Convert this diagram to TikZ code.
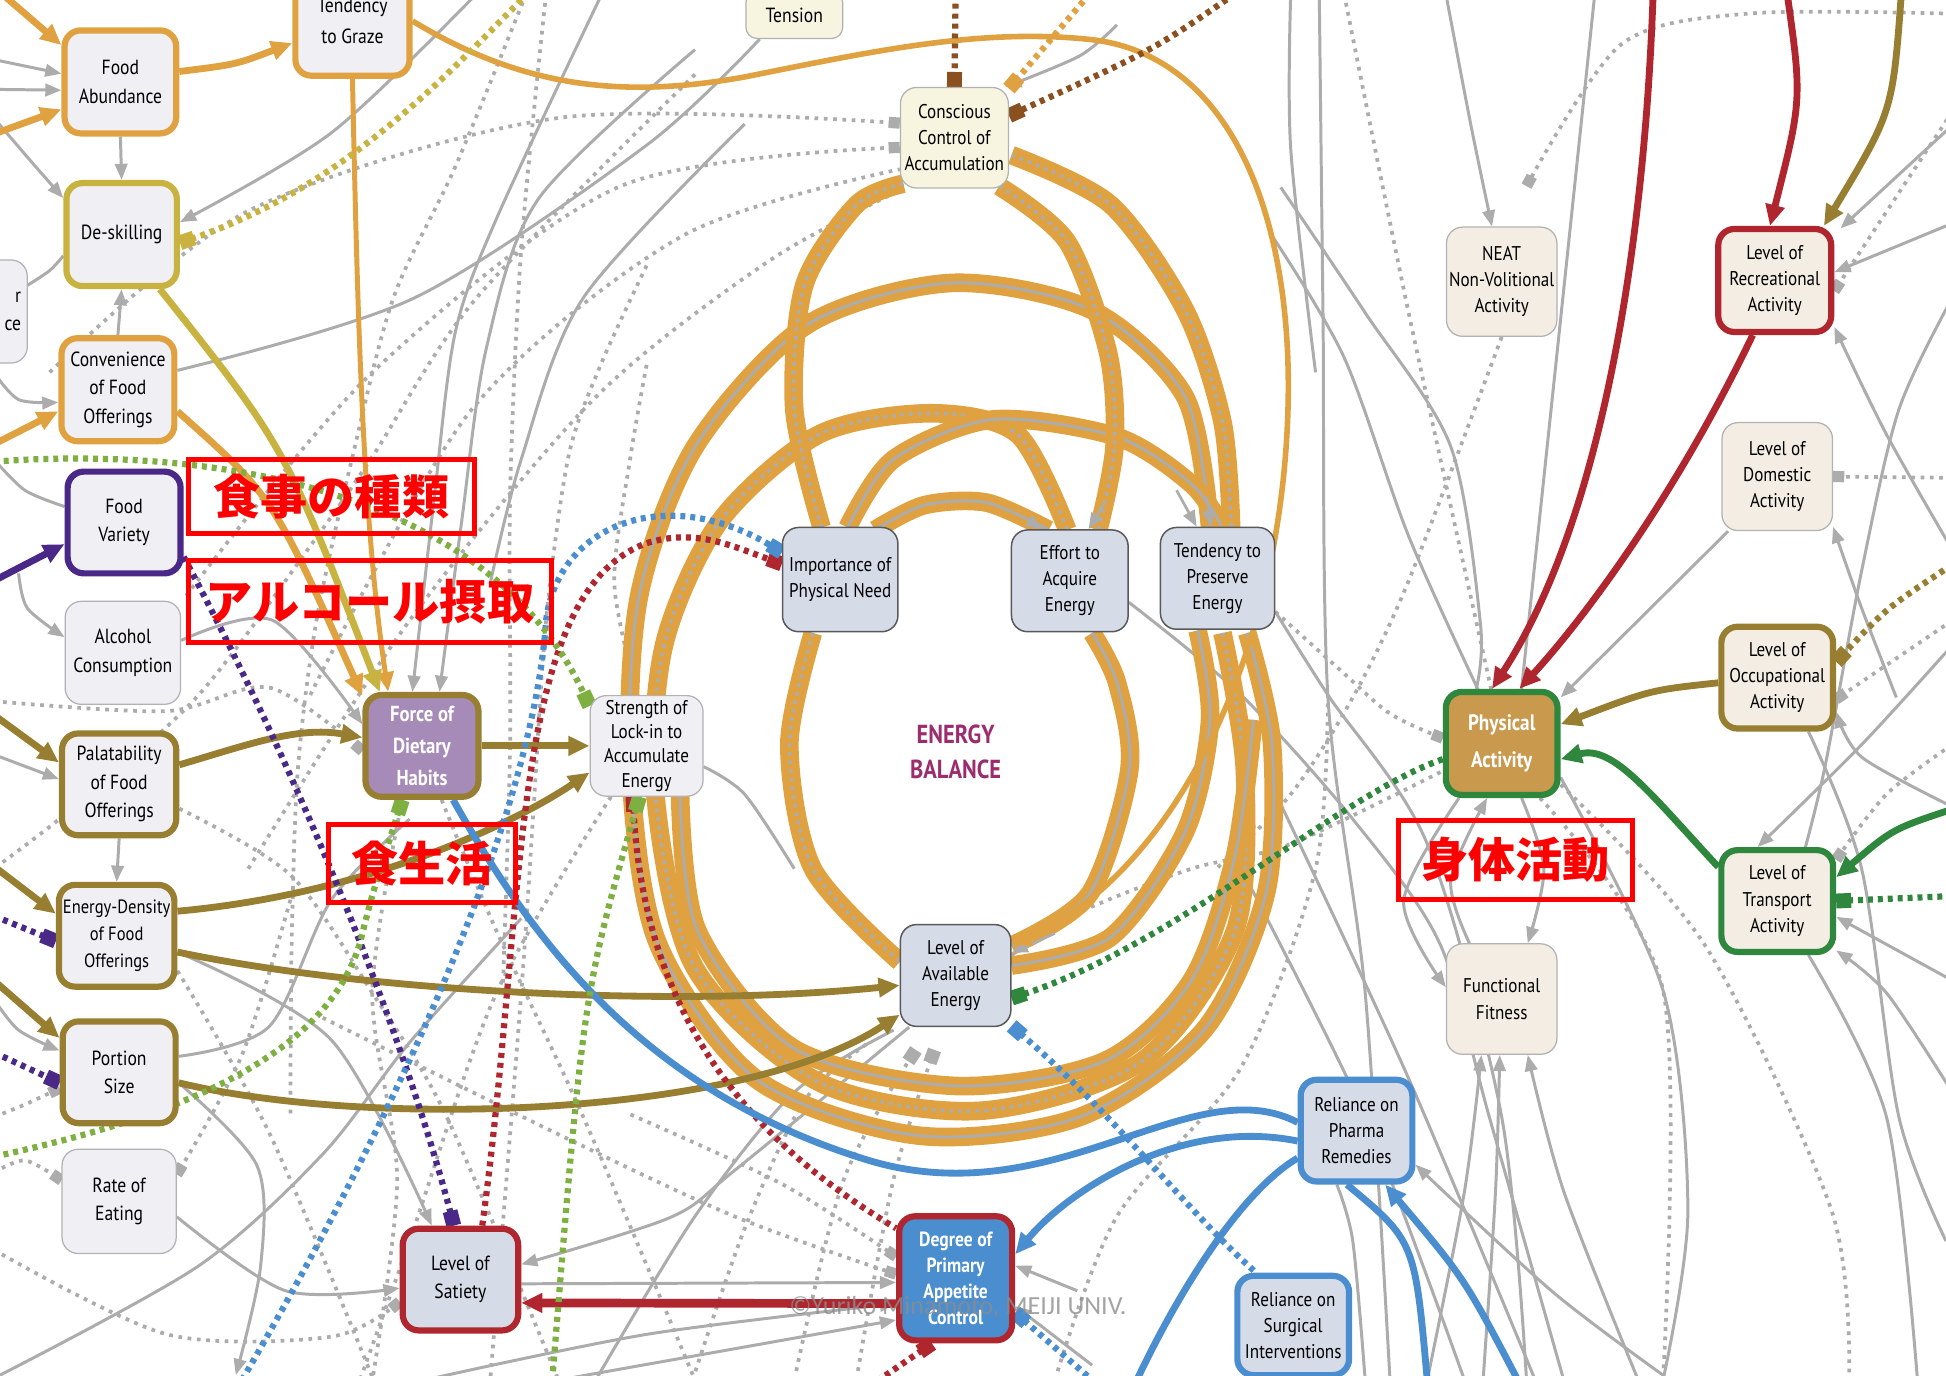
\documentclass[tikz,border=0pt]{standalone}
\usepackage{fontspec}
\setmainfont{PT Sans}[FakeStretch=0.86]
\newfontfamily\jpfont{Noto Sans CJK JP}
\newfontfamily\wmfont{Carlito}
\usetikzlibrary{arrows.meta,backgrounds}
\definecolor{orangeC}{RGB}{224,162,64}
\definecolor{oliveC}{RGB}{152,126,48}
\definecolor{yellowC}{RGB}{200,178,64}
\definecolor{purpleC}{RGB}{74,40,135}
\definecolor{redC}{RGB}{176,38,46}
\definecolor{blueC}{RGB}{74,142,208}
\definecolor{greenC}{RGB}{46,135,60}
\definecolor{lgreenC}{RGB}{125,176,64}
\definecolor{brownC}{RGB}{139,80,32}
\definecolor{grayC}{RGB}{172,172,172}
\definecolor{boxfill}{RGB}{240,239,243}
\definecolor{levelfill}{RGB}{214,219,232}
\definecolor{creamfill}{RGB}{243,237,227}
\definecolor{cccfill}{RGB}{247,244,224}
\definecolor{lavC}{RGB}{166,139,184}
\definecolor{tanC}{RGB}{201,153,78}
\definecolor{ebC}{RGB}{155,45,110}
\definecolor{labC}{RGB}{255,0,0}
\newcommand\nfnt{\fontsize{16.5}{23}\selectfont}
\newcommand\lfnt{\fontsize{16}{21}\selectfont}
\newcommand\wfnt{\fontsize{17.5}{26}\selectfont\bfseries}
\begin{document}
\begin{tikzpicture}[x=1pt,y=-1pt,
  bx/.style={rounded corners=13pt, fill=boxfill, align=center, inner sep=1pt, font=\nfnt},
  thk/.style={line width=5pt},
  thn/.style={draw=black!30, line width=1pt},
  lvl/.style={bx, fill=levelfill, draw=black!65, line width=1.2pt, font=\lfnt},
  crm/.style={bx, fill=creamfill},
  gline/.style={draw=grayC, line width=2.4pt},
  garr/.style={gline, -{Triangle[length=13pt,width=10pt]}},
  gdot/.style={draw=grayC, line width=3pt, dash pattern=on 3pt off 4.5pt},
  gdsq/.style={gdot, -{Square[length=9pt,width=9pt]}},
  carr/.style={line width=5.5pt, -{Triangle[length=17pt,width=15pt]}},
  cln/.style={line width=5.5pt},
  cdot/.style={line width=5pt, dash pattern=on 4pt off 4pt},
  cdsq/.style={cdot, -{Square[length=12pt,width=12pt]}},
  band/.style={draw=orangeC, line width=15pt, postaction={draw=grayC, line width=2.4pt}},
  bandd/.style={draw=orangeC, line width=15pt, postaction={draw=grayC, line width=2.8pt, dash pattern=on 3pt off 4pt}},
  core/.style={draw=grayC, line width=2.2pt, -{Triangle[length=13pt,width=10pt]}},
  lab/.style={draw=labC, line width=4pt, text=labC, inner sep=0pt, font=\jpfont\bfseries\fontsize{38}{38}\selectfont}
]
\useasboundingbox (0,0) rectangle (1568,1108);

% ---------------- nodes ----------------
\node[bx, draw=orangeC, thk, minimum width=90, minimum height=83] (fa) at (97,66) {Food\\Abundance};
\node[bx, draw=orangeC, thk, minimum width=92, minimum height=88, font=\fontsize{16.5}{25}\selectfont] (tg) at (284,17) {Tendency\\to Graze};
\node[bx, fill=cccfill, thn, minimum width=78, minimum height=38, rounded corners=9pt] (ten) at (640,12) {Tension};
\node[bx, fill=cccfill, thn, minimum width=87, minimum height=81, font=\lfnt] (ccc) at (769,111) {Conscious\\Control of\\Accumulation};
\node[bx, draw=yellowC, thk, minimum width=89, minimum height=83] (ds) at (98,189) {De-skilling};
\node[bx, thn, minimum width=62, minimum height=83, align=right, text width=52] (lp) at (-9,251) {r\\ce};
\node[bx, draw=orangeC, thk, minimum width=91, minimum height=83] (cv) at (95,314) {Convenience\\of Food\\Offerings};
\node[bx, draw=purpleC, thk, minimum width=91, minimum height=82] (fv) at (100,421) {Food\\Variety};
\node[bx, thn, minimum width=93, minimum height=83] (ac) at (99,526) {Alcohol\\Consumption};
\node[bx, draw=oliveC, thk, minimum width=92, minimum height=82] (pl) at (96,632) {Palatability\\of Food\\Offerings};
\node[bx, draw=oliveC, thk, minimum width=93, minimum height=82, font=\fontsize{15.5}{22}\selectfont] (ed) at (94,754) {Energy-Density\\of Food\\Offerings};
\node[bx, draw=oliveC, thk, minimum width=91, minimum height=82] (ps) at (96,864) {Portion\\Size};
\node[bx, thn, minimum width=92, minimum height=84] (re) at (96,968) {Rate of\\Eating};
\node[bx, fill=lavC, draw=oliveC, thk, minimum width=91, minimum height=82, text=white, font=\wfnt] (fdh) at (340,601) {Force of\\Dietary\\Habits};
\node[bx, thn, minimum width=91, minimum height=81, font=\fontsize{16}{19.5}\selectfont] (sl) at (521,601) {Strength of\\Lock-in to\\Accumulate\\Energy};
\node[lvl, minimum width=93, minimum height=84] (ipn) at (677,467) {Importance of\\Physical Need};
\node[lvl, minimum width=94, minimum height=82] (eae) at (862,468) {Effort to\\Acquire\\Energy};
\node[lvl, minimum width=92, minimum height=82] (tpe) at (981,466) {Tendency to\\Preserve\\Energy};
\node[lvl, minimum width=89, minimum height=82] (lae) at (770,786) {Level of\\Available\\Energy};
\node[lvl, draw=redC, thk, minimum width=93, minimum height=82, font=\nfnt] (los) at (371,1031) {Level of\\Satiety};
\node[bx, fill=blueC, draw=redC, thk, minimum width=91, minimum height=100, text=white, font=\fontsize{16.5}{21}\selectfont\bfseries] (dpac) at (770,1030) {Degree of\\Primary\\Appetite\\Control};
\node[lvl, draw=blueC, thk, minimum width=90, minimum height=82, font=\lfnt] (rpr) at (1093,911) {Reliance on\\Pharma\\Remedies};
\node[lvl, draw=blueC, thk, minimum width=90, minimum height=80, font=\lfnt] (rsi) at (1042,1068) {Reliance on\\Surgical\\Interventions};
\node[crm, thn, minimum width=89, minimum height=88, font=\lfnt] (neat) at (1210,227) {NEAT\\Non-Volitional\\Activity};
\node[crm, draw=redC, thk, minimum width=91, minimum height=83, font=\lfnt] (lra) at (1430,226) {Level of\\Recreational\\Activity};
\node[crm, thn, minimum width=89, minimum height=87, font=\lfnt] (lda) at (1432,384) {Level of\\Domestic\\Activity};
\node[crm, draw=oliveC, thk, minimum width=90, minimum height=82, font=\lfnt] (loa) at (1432,546) {Level of\\Occupational\\Activity};
\node[bx, fill=tanC, draw=greenC, thk, minimum width=90, minimum height=83, text=white, font=\fontsize{18}{30}\selectfont\bfseries] (pa) at (1210,599) {Physical\\Activity};
\node[crm, draw=greenC, thk, minimum width=90, minimum height=82, font=\lfnt] (lta) at (1432,726) {Level of\\Transport\\Activity};
\node[crm, thn, minimum width=89, minimum height=89, font=\lfnt] (ff) at (1210,805) {Functional\\Fitness};
\node[text=ebC, align=center, font=\fontsize{21}{28}\selectfont\bfseries] (eb) at (770,606) {ENERGY\\BALANCE};

% free end points
\coordinate (tl1) at (5,-2);
\coordinate (tl2) at (-5,108);
\coordinate (tl3) at (-5,358);
\coordinate (tl4) at (-5,468);
\coordinate (tl5) at (-5,576);
\coordinate (tl6) at (-5,698);
\coordinate (tl7) at (-5,790);
\coordinate (tr1) at (1332,-5);
\coordinate (tr2) at (1440,-5);
\coordinate (tr3) at (1532,-5);
\coordinate (rt1) at (1573,652);
\coordinate (rt2) at (1573,722);
\coordinate (rt3) at (1573,455);
\coordinate (dm1) at (738,846);
\coordinate (dm2) at (753,846);

\begin{scope}[on background layer]
\fill[white] (0,0) rectangle (1568,1108);

% ---------------- gray solid lines ----------------
\draw[garr] (-5,48) -- (fa.172);
\draw[garr] (-5,72) -- (fa.188);
\draw[garr] plot[smooth] coordinates {(-5,95) (25,130) (ds.148)};
\draw[garr] (fa.south) -- (ds.north);
\draw[garr] (cv.north) -- (ds.south);
\draw[garr] plot[smooth] coordinates {(384,-5) (267,107) (ds.12)};
\draw[gline] plot[smooth] coordinates {(22,230) (40,218) (ds.200)};
\draw[garr] plot[smooth] coordinates {(-5,300) (15,322) (cv.192)};
\draw[gline] plot[smooth] coordinates {(cv.18) (334,240) (521,117) (ten.215)};
\draw[garr] plot[smooth] coordinates {(485,-5) (401,174) (367,267) (350,400) (fdh.100)};
\draw[garr] plot[smooth] coordinates {(560,40) (434,160) (392,280) (372,420) (fdh.72)};
\draw[gline] plot[smooth] coordinates {(600,100) (470,240) (420,370) (395,470)};
\draw[gline] plot[smooth] coordinates {(fv.165) (20,395) (-5,370)};
\draw[garr] plot[smooth] coordinates {(15,462) (22,490) (ac.165)};
\draw[garr] plot[smooth] coordinates {(ac.12) (220,500) (fdh.160)};
\draw[garr] (tl5) ++(0,32) -- (pl.175);
\draw[garr] (pl.south) -- (ed.north);
\draw[garr] plot[smooth] coordinates {(-5,805) (15,830) (ps.160)};
\draw[garr] plot[smooth] coordinates {(ed.345) (267,838) (los.118)};
\draw[garr] plot[smooth] coordinates {(ps.350) (207,939) (210,1020) (190,1108)};
\draw[gline] plot[smooth] coordinates {(ps.15) (217,827) (267,725) (330,660)};
\draw[garr] plot[smooth] coordinates {(re.345) (230,1040) (los.188)};
\draw[garr] plot[smooth] coordinates {(lae.228) (592,943) (540,981) (los.14)};
\draw[garr] (los.356) -- (dpac.184);
\draw[garr] plot[smooth] coordinates {(342,1112) (522,1075) (dpac.203)};
\draw[garr] plot[smooth] coordinates {(450,1112) (dpac.215)};
\draw[garr] plot[smooth] coordinates {(868,1040) (dpac.12)};
\draw[garr] plot[smooth] coordinates {(880,1100) (dpac.335)};
\draw[gline] plot[smooth] coordinates {(480,1112) (560,980) (640,880) (720,830)};
\draw[gline] plot[smooth] coordinates {(0,1108) (160,1020) (260,930) (330,840) (420,740)};
\draw[gline] plot[smooth] coordinates {(sl.340) (600,640) (640,700)};
\draw[garr] plot[smooth] coordinates {(900,20) (870,45) (ccc.45)};

% right side gray
\draw[garr] plot[smooth] coordinates {(1165,-5) (1185,100) (neat.100)};
\draw[gline] plot[smooth] coordinates {(1032,151) (1100,252) (1169,360) (1193,504) (pa.115)};
\draw[gline] plot[smooth] coordinates {(1063,-5) (1066,252) (1070,562) (1100,800) (1120,1112)};
\draw[gline] plot[smooth] coordinates {(1025,190) (1083,288) (1135,432) (1193,560)};
\draw[gline] plot[smooth] coordinates {(1285,-5) (1258,252) (pa.70)};
\draw[gline] plot[smooth] coordinates {(1040,-5) (1040,120) (1060,300)};
\draw[gline] plot[smooth] coordinates {(eae.340) (1000,560) (1090,660) (1160,760) (1200,900) (1260,1112)};
\draw[gline] plot[smooth] coordinates {(tpe.330) (1070,560) (1150,680) (1210,900) (1230,1112)};
\draw[garr] plot[smooth] coordinates {(1573,101) (1483,184)};
\draw[garr] plot[smooth] coordinates {(1573,180) (lra.8)};
\draw[garr] plot[smooth] coordinates {(1573,443) (1520,350) (lra.322)};
\draw[garr] plot[smooth] coordinates {(lda.228) (1330,490) (pa.38)};
\draw[garr] plot[smooth] coordinates {(1528,562) (1500,490) (lda.318)};
\draw[gline] plot[smooth] coordinates {(1573,240) (1530,330) (1500,460) (1470,620) (1450,700)};
\draw[garr] plot[smooth] coordinates {(1573,520) (1500,600) (lta.110)};
\draw[garr] plot[smooth] coordinates {(1573,790) (lta.345)};
\draw[garr] plot[smooth] coordinates {(1573,880) (1520,800) (lta.320)};
\draw[garr] plot[smooth] coordinates {(1573,650) (1500,610) (loa.330)};
\draw[gline] plot[smooth] coordinates {(lta.300) (1520,900) (1545,1112)};
\draw[gline] plot[smooth] coordinates {(loa.300) (1500,700) (1530,900) (1568,1000)};
\draw[gline] plot[smooth] coordinates {(pa.330) (1340,798) (1360,976) (1340,1112)};
\draw[gline] plot[smooth] coordinates {(1032,648) (1135,869) (1237,1112)};
\draw[gline] plot[smooth] coordinates {(1000,700) (1100,900) (1180,1112)};
\draw[garr] plot[smooth] coordinates {(pa.232) (1131,726) (ff.168)};
\draw[garr] plot[smooth] coordinates {(ff.120) (1169,709) (pa.255)};
\draw[garr] plot[smooth] coordinates {(pa.290) (1244,700) (ff.65)};
\draw[garr] plot[smooth] coordinates {(1150,1112) (1180,960) (ff.250)};
\draw[garr] plot[smooth] coordinates {(1195,1112) (1205,960) (ff.268)};
\draw[garr] plot[smooth] coordinates {(1320,1112) (1260,960) (ff.295)};
\draw[garr] plot[smooth] coordinates {(1340,1108) (1250,1040) (rpr.330)};
\draw[gline] plot[smooth] coordinates {(rpr.250) (1090,1000) (1100,1112)};

% ---------------- gray dotted lines ----------------
\draw[gdsq] plot[smooth] coordinates {(40,300) (200,170) (450,95) (ccc.165)};
\draw[gdsq] plot[smooth] coordinates {(150,480) (300,300) (500,150) (ccc.190)};
\draw[gdot] plot[smooth] coordinates {(250,560) (380,330) (550,190) (ccc.210)};
\draw[gdot] plot[smooth] coordinates {(200,700) (330,500) (480,320) (620,210) (ccc.225)};
\draw[gdot] plot[smooth] coordinates {(424,-5) (367,134) (317,240) (284,368) (255,500) (240,620) (235,760) (234,900)};
\draw[gdot] plot[smooth] coordinates {(560,60) (384,240) (300,368) (250,440) (160,560) (60,650) (-5,700)};
\draw[gdot] plot[smooth] coordinates {(521,214) (484,294) (458,368) (440,500) (430,650) (420,800) (395,1112)};
\draw[gdot] plot[smooth] coordinates {(521,294) (508,368) (495,470) (sl.100)};
\draw[gdot] plot[smooth] coordinates {(440,-5) (420,200) (411,400) (411,600) (405,800)};
\draw[gdsq] plot[smooth] coordinates {(-5,565) (134,573) (217,554) (fdh.185)};
\draw[gdot] plot[smooth] coordinates {(pl.338) (234,705) (300,800) (360,900) (450,1112)};
\draw[gdot] plot[smooth] coordinates {(ed.330) (217,913) (301,1112)};
\draw[gdsq] plot[smooth] coordinates {(-5,900) (20,890) (ps.195)};
\draw[gdsq] plot[smooth] coordinates {(-5,945) (20,935) (re.160)};
\draw[gdsq] plot[smooth] coordinates {(-5,1007) (134,1075) (267,1077) (los.200)};
\draw[gdsq] plot[smooth] coordinates {(234,725) (195,850) (re.25)};
\draw[gdot] plot[smooth] coordinates {(fdh.250) (300,800) (320,950) (300,1112)};
\draw[gdot] plot[smooth] coordinates {(sl.235) (400,800) (330,1000) (290,1112)};
\draw[gdot] plot[smooth] coordinates {(fdh.290) (400,750) (470,900) (560,1112)};
\draw[gdsq] plot[smooth] coordinates {(508,898) (630,954) (dpac.160)};
\draw[gdsq] plot[smooth] coordinates {(260,820) (450,914) (594,981) (dpac.176)};
\draw[gdot] plot[smooth] coordinates {(558,1112) (600,990) (648,887) (700,840)};
\draw[gdot, -{Square[length=11pt,width=11pt]}] plot[smooth] coordinates {(640,1112) (680,950) (dm1)};
\draw[gdot, -{Square[length=11pt,width=11pt]}] plot[smooth] coordinates {(690,1112) (720,950) (dm2)};
\draw[gdot] plot[smooth] coordinates {(lae.20) (870,735) (960,700) (1040,680) (pa.205)};
\draw[gdsq] plot[smooth] coordinates {(tpe.330) (1080,540) (1120,575) (pa.175)};
\draw[gdot] plot[smooth] coordinates {(1083,-5) (1135,252) (1203,562)};
\draw[gdot] plot[smooth] coordinates {(neat.south) (1135,468) (1090,562) (1040,640) (980,700)};
\draw[gdsq] plot[smooth] coordinates {(1573,11) (1408,11) (1306,36) (1230,150)};
\draw[gdsq] plot[smooth] coordinates {(1573,90) (lra.350)};
\draw[gdsq] (1573,385) -- (lda.east);
\draw[gdsq] plot[smooth] coordinates {(1573,500) (loa.340)};
\draw[gdsq] plot[smooth] coordinates {(1573,600) (1520,640) (lta.35)};
\draw[gdot] plot[smooth] coordinates {(pa.305) (1340,798) (1340,1112)};
\draw[gdot] plot[smooth] coordinates {(pa.325) (1374,762) (1476,976) (1490,1112)};
\draw[gdot] plot[smooth] coordinates {(850,1112) (900,980) (1000,860) (1060,700) (1070,560)};

% ---------------- orange energy bands ----------------
\draw[band] plot[smooth] coordinates {(975,425) (955,320) (880,250) (766,228) (650,262) (560,360) (515,480) (508,620) (530,760) (610,870) (740,915) (870,900) (970,830) (1020,720) (1025,600) (1005,510)};
\draw[bandd] plot[smooth] coordinates {(860,427) (820,350) (750,333) (660,350) (580,420) (535,520) (528,640) (560,780) (660,872) (790,895) (920,855) (995,750) (1003,620) (985,510)};
\draw[band] plot[smooth] coordinates {(683,425) (720,370) (800,338) (900,352) (960,390) (985,425)};
\draw[band] plot[smooth] coordinates {(705,427) (745,407) (795,405) (845,427)};
\draw[bandd] plot[smooth] coordinates {(662,425) (640,330) (648,230) (690,165) (728,148)};
\draw[bandd] plot[smooth] coordinates {(805,150) (860,195) (893,285) (898,360) (885,427)};
\draw[bandd] plot[smooth] coordinates {(815,125) (895,165) (955,250) (985,340) (992,425)};
\draw[bandd] plot[smooth] coordinates {(655,510) (636,600) (655,700) (725,775)};
\draw[band] plot[smooth] coordinates {(815,762) (878,720) (910,620) (900,550) (880,510)};
\draw[band] plot[smooth] coordinates {(815,778) (895,755) (955,670) (975,580) (965,508)};
\draw[band] plot[smooth] coordinates {(548,640) (562,750) (640,845) (770,875) (890,855) (960,790) (995,690) (1010,580)};
\draw[core] (830,420) -- (eae.118);
\draw[core] (850,752) -- (lae.22);
\draw[core] (972,400) -- (tpe.97);
\draw[core] (948,395) -- (tpe.112);
\draw[core] (890,405) -- (eae.70);

% ---------------- coloured connectors ----------------
% orange
\draw[carr, draw=orangeC] (tl1) -- (fa.148);
\draw[carr, draw=orangeC] (tl2) -- (fa.205);
\draw[carr, draw=orangeC] (fa.10) .. controls (190,52) .. (tg.200);
\draw[draw=orangeC, line width=4.5pt, -{Triangle[length=16pt,width=13pt]}] (tg.east) .. controls (420,70) and (500,80) .. (600,62) .. controls (700,42) and (790,22) .. (880,32) .. controls (990,45) and (1040,170) .. (1038,320) .. controls (1035,520) and (950,700) .. (lae.28);
\draw[draw=orangeC, line width=4pt, -{Triangle[length=16pt,width=13pt]}] (tg.south) .. controls (288,250) and (292,420) .. (fdh.122);
\draw[carr, draw=orangeC] (cv.340) .. controls (220,400) .. (fdh.140);
\draw[carr, draw=orangeC] (tl3) -- (cv.200);
\draw[cdsq, draw=orangeC] (878,-5) -- (ccc.42);
% yellow
\draw[carr, draw=yellowC] (ds.305) .. controls (230,360) .. (fdh.128);
\draw[cdot, draw=yellowC, {Square[length=12pt,width=12pt]}-] (ds.352) .. controls (280,150) and (360,60) .. (425,-5);
% brown
\draw[cdsq, draw=brownC] (770,-5) -- (ccc.north);
\draw[cdsq, draw=brownC] (995,-5) .. controls (930,40) .. (ccc.22);
% olive
\draw[carr, draw=oliveC] (tl5) -- (pl.160);
\draw[carr, draw=oliveC] (pl.18) .. controls (200,600) and (240,585) .. (fdh.172);
\draw[carr, draw=oliveC] (fdh.east) -- (sl.west);
\draw[carr, draw=oliveC] (ed.22) .. controls (300,720) and (420,660) .. (sl.205);
\draw[carr, draw=oliveC] (ed.345) .. controls (300,800) and (550,812) .. (lae.190);
\draw[carr, draw=oliveC] (ps.350) .. controls (300,910) and (600,900) .. (lae.215);
\draw[carr, draw=oliveC] (tl6) -- (ed.160);
\draw[carr, draw=oliveC] (tl7) -- (ps.150);
\draw[carr, draw=oliveC] (loa.185) .. controls (1330,556) .. (pa.18);
\draw[carr, draw=oliveC] (tr3) .. controls (1525,90) .. (lra.48);
\draw[cdsq, draw=oliveC] (rt3) .. controls (1520,490) .. (loa.15);
% purple
\draw[carr, draw=purpleC] (tl4) -- (fv.200);
\draw[cdsq, draw=purpleC] (fv.330) .. controls (250,640) and (330,850) .. (los.97);
\draw[cdsq, draw=purpleC] (-5,738) -- (ed.185);
\draw[cdsq, draw=purpleC] (-5,848) -- (ps.190);
% red
\draw[carr, draw=redC] (tr1) .. controls (1325,200) and (1290,420) .. (pa.100);
\draw[carr, draw=redC] (tr2) .. controls (1452,80) .. (lra.95);
\draw[carr, draw=redC] (lra.248) .. controls (1350,400) and (1275,500) .. (pa.72);
\draw[carr, draw=redC, line width=7pt] (dpac.203) -- (los.339);
\draw[cdsq, draw=redC] (los.68) .. controls (425,720) and (410,480) .. (520,438) .. controls (560,425) and (590,440) .. (ipn.165);
\draw[cdot, draw=redC, {Square[length=12pt,width=12pt]}-] (sl.255) .. controls (520,850) and (640,940) .. (dpac.140);
\draw[cdot, draw=redC, {Square[length=12pt,width=12pt]}-] (dpac.250) -- (708,1112);
% blue
\draw[cln, draw=blueC] (fdh.300) .. controls (430,760) and (520,880) .. (700,935) .. controls (850,980) and (960,860) .. (rpr.172);
\draw[carr, draw=blueC] (rpr.190) .. controls (950,900) and (860,960) .. (dpac.22);
\draw[cln, draw=blueC] (rpr.205) .. controls (1000,960) and (950,1040) .. (916,1112);
\draw[cln, draw=blueC] (rpr.260) .. controls (1140,1000) .. (1150,1112);
\draw[carr, draw=blueC] (1223,1112) .. controls (1180,1030) .. (rpr.298);
\draw[cdsq, draw=blueC] (195,1112) .. controls (330,880) and (430,650) .. (440,500) .. controls (450,420) and (540,390) .. (ipn.155);
\draw[cdot, draw=blueC, {Square[length=12pt,width=12pt]}-] (lae.318) .. controls (900,900) and (960,980) .. (rsi.125);
\draw[cdot, draw=blueC, {Square[length=12pt,width=12pt]}-] (dpac.330) -- (880,1112);
% green
\draw[carr, draw=greenC] (rt1) .. controls (1525,668) .. (lta.22);
\draw[carr, draw=greenC] (lta.150) .. controls (1330,640) and (1300,600) .. (pa.345);
\draw[cdsq, draw=greenC] (rt2) -- (lta.east);
\draw[cdsq, draw=greenC] (pa.195) .. controls (1080,640) and (950,760) .. (lae.338);
% light green
\draw[cdsq, draw=lgreenC] (-5,372) .. controls (150,360) and (390,385) .. (sl.145);
\draw[cdsq, draw=lgreenC] (-5,932) .. controls (120,905) and (260,860) .. (290,760) .. controls (300,720) .. (fdh.250);
\draw[cdot, draw=lgreenC, {Square[length=12pt,width=12pt]}-] (sl.262) .. controls (470,800) .. (445,1112);
\end{scope}

% ---------------- labels ----------------
\node[lab, minimum width=230, minimum height=60] (k1) at (267,400) {食事の種類};
\node[lab, minimum width=293, minimum height=66] (k2) at (298,485) {アルコール摂取};
\node[lab, minimum width=150, minimum height=63] (k3) at (340,696) {食生活};
\node[lab, minimum width=188, minimum height=63] (k4) at (1221,693) {身体活動};
\node[text=black!45, opacity=0.8, font=\wmfont\fontsize{21}{21}\selectfont] (wm) at (772,1053) {©Yuriko Minamoto, MEIJI UNIV.};
\end{tikzpicture}
\end{document}
